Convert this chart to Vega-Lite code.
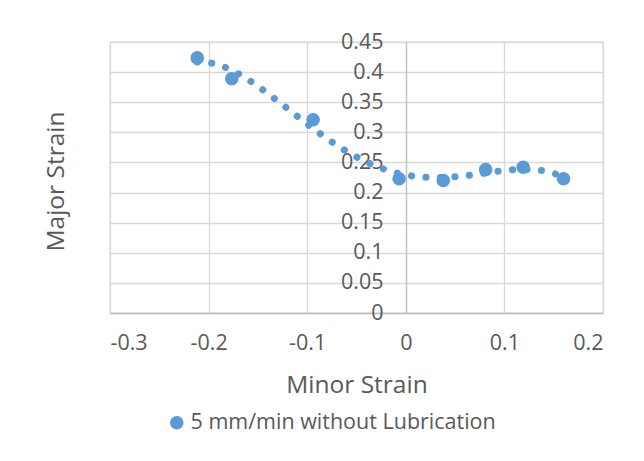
{
  "$schema": "https://vega.github.io/schema/vega-lite/v6.json",
  "width": 493,
  "height": 271,
  "autosize": {"type": "none"},
  "padding": {"left": 110, "top": 42, "right": 41, "bottom": 148},
  "background": "white",
  "config": {
    "font": "Open Sans",
    "view": {"stroke": "#d9d9d9", "strokeWidth": 1.3}
  },
  "data": {
    "values": [
      {"minor": -0.2115, "major": 0.4236, "series": "5 mm/min without  Lubrication"},
      {"minor": -0.1765, "major": 0.389, "series": "5 mm/min without  Lubrication"},
      {"minor": -0.094, "major": 0.321, "series": "5 mm/min without  Lubrication"},
      {"minor": -0.0068, "major": 0.223, "series": "5 mm/min without  Lubrication"},
      {"minor": 0.038, "major": 0.22, "series": "5 mm/min without  Lubrication"},
      {"minor": 0.081, "major": 0.238, "series": "5 mm/min without  Lubrication"},
      {"minor": 0.119, "major": 0.242, "series": "5 mm/min without  Lubrication"},
      {"minor": 0.16, "major": 0.223, "series": "5 mm/min without  Lubrication"}
    ]
  },
  "encoding": {
    "x": {
      "field": "minor",
      "type": "quantitative",
      "scale": {"domain": [-0.3, 0.2], "nice": false, "zero": false},
      "axis": {
        "values": [-0.3, -0.2, -0.1, 0, 0.1, 0.2],
        "labelExpr": "replace(format(datum.value, '~g'), '\u2212', '-')",
        "grid": true,
        "gridColor": "#d9d9d9",
        "gridWidth": 1.3,
        "domainColor": "#bfbfbf",
        "domainWidth": 1.3,
        "ticks": false,
        "tickSize": 0,
        "labelFontSize": 21.5,
        "labelColor": "#595959",
        "labelPadding": 19,
        "title": "Minor Strain",
        "titleFontSize": 24.5,
        "titleFontWeight": "normal",
        "titleColor": "#595959",
        "titleBaseline": "alphabetic",
        "titleY": 79
      }
    },
    "y": {
      "field": "major",
      "type": "quantitative",
      "scale": {"domain": [0, 0.45], "nice": false},
      "axis": {
        "values": [0, 0.05, 0.1, 0.15, 0.2, 0.25, 0.3, 0.35, 0.4, 0.45],
        "format": "~g",
        "offset": -296,
        "grid": true,
        "gridColor": "#d9d9d9",
        "gridWidth": 1.3,
        "domainColor": "#bfbfbf",
        "domainWidth": 1.3,
        "ticks": false,
        "tickSize": 0,
        "labelFontSize": 21.5,
        "labelColor": "#595959",
        "labelPadding": 23,
        "title": "Major Strain",
        "titleFontSize": 24.5,
        "titleFontWeight": "normal",
        "titleColor": "#595959",
        "titleBaseline": "alphabetic",
        "titleX": -343,
        "titleY": 139
      }
    }
  },
  "layer": [
    {
      "transform": [{"regression": "major", "on": "minor", "method": "poly", "order": 4}],
      "mark": {"type": "line", "color": "#5B9BD5", "strokeWidth": 7, "strokeDash": [0.1, 14.4], "strokeCap": "round"}
    },
    {
      "mark": {"type": "circle", "size": 185, "opacity": 1},
      "encoding": {
        "color": {
          "field": "series",
          "type": "nominal",
          "scale": {"range": ["#5B9BD5"]},
          "legend": {
            "orient": "none",
            "legendX": 56,
            "legendY": 370,
            "title": null,
            "labelFontSize": 21.5,
            "labelColor": "#595959",
            "symbolSize": 185,
            "symbolType": "circle",
            "symbolStrokeWidth": 0,
            "labelOffset": 3,
            "labelLimit": 400
          }
        }
      }
    }
  ]
}
